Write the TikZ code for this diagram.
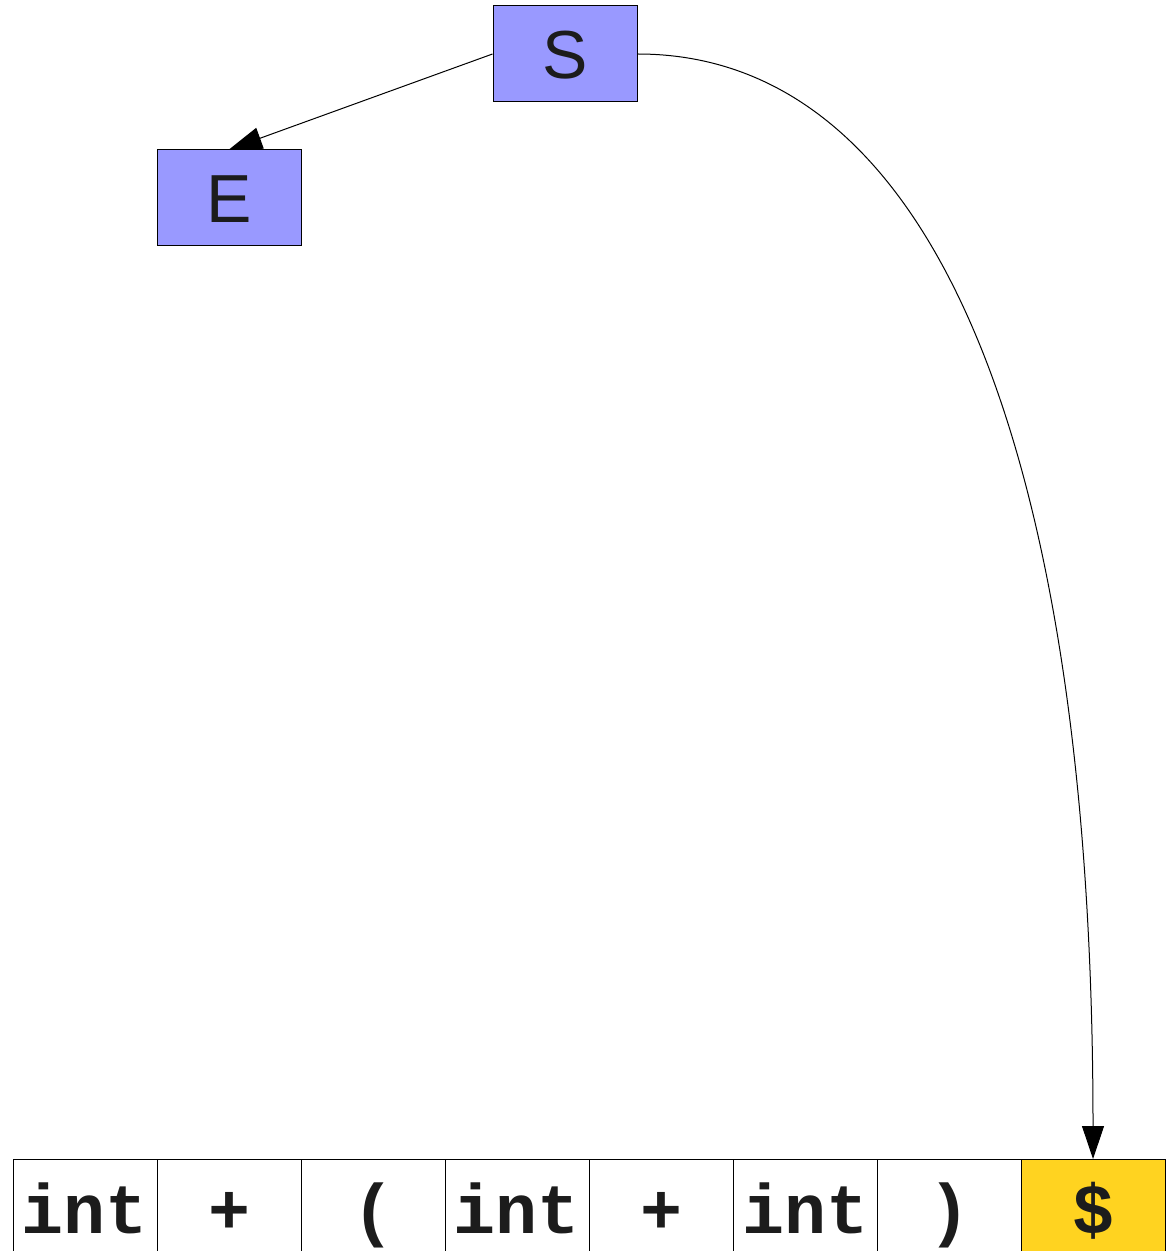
\documentclass[tikz,border=0pt]{standalone}
\usepackage{fontspec}
\setmainfont{Liberation Sans}
\newfontfamily\tokfont{Liberation Mono}
\usepackage{xcolor}
\definecolor{symFill}{HTML}{9999FF}
\definecolor{eofFill}{HTML}{FFD320}
\definecolor{inkDark}{HTML}{1C1C1C}
\usepackage{tikz}
\usetikzlibrary{arrows.meta,positioning}
\tikzset{
    symbol/.style={
        draw=black,
        fill=symFill,
        rectangle,
        line width=0.5pt,
        minimum width=72pt,
        minimum height=48pt,
        inner sep=0pt,
        text height=25pt,
        text depth=0pt,
        text=inkDark,
        font=\fontsize{34pt}{40pt}\selectfont
    },
    token/.style={
        draw=black,
        fill=white,
        rectangle,
        line width=0.5pt,
        minimum width=72pt,
        minimum height=48pt,
        inner sep=0pt,
        outer sep=0pt,
        text height=26pt,
        text depth=0pt,
        text=inkDark,
        font=\tokfont\bfseries\fontsize{35pt}{40pt}\selectfont
    },
    arrow/.style={
        -{Triangle[length=16.5pt,width=11pt]},
        line width=0.5pt,
        color=black
    }
}

\begin{document}
\begin{tikzpicture}[x=0.5pt,y=-0.5pt]
    \useasboundingbox (0,0) rectangle (1173,1251);

    % Parse tree nodes
    \node[symbol] (S) at (565,54) {S};
    \node[symbol] (E) at (229,198) {E};

    % Input tokens
    \node[token] (tok1) at (85,1207) {int};
    \foreach \i/\prev/\txt in {2/1/+, 3/2/{(}, 4/3/int, 5/4/+, 6/5/int, 7/6/{)}} {
        \node[token, right=0pt of tok\prev] (tok\i) {\txt};
    }
    \node[token, fill=eofFill, right=0pt of tok7] (tok8) {\$};

    % Connections
    \draw[arrow] (S.west) -- (E.north);
    \draw[arrow] (S.east) .. controls +(300,0) and +(0,-700) .. (tok8.north);
\end{tikzpicture}
\end{document}
